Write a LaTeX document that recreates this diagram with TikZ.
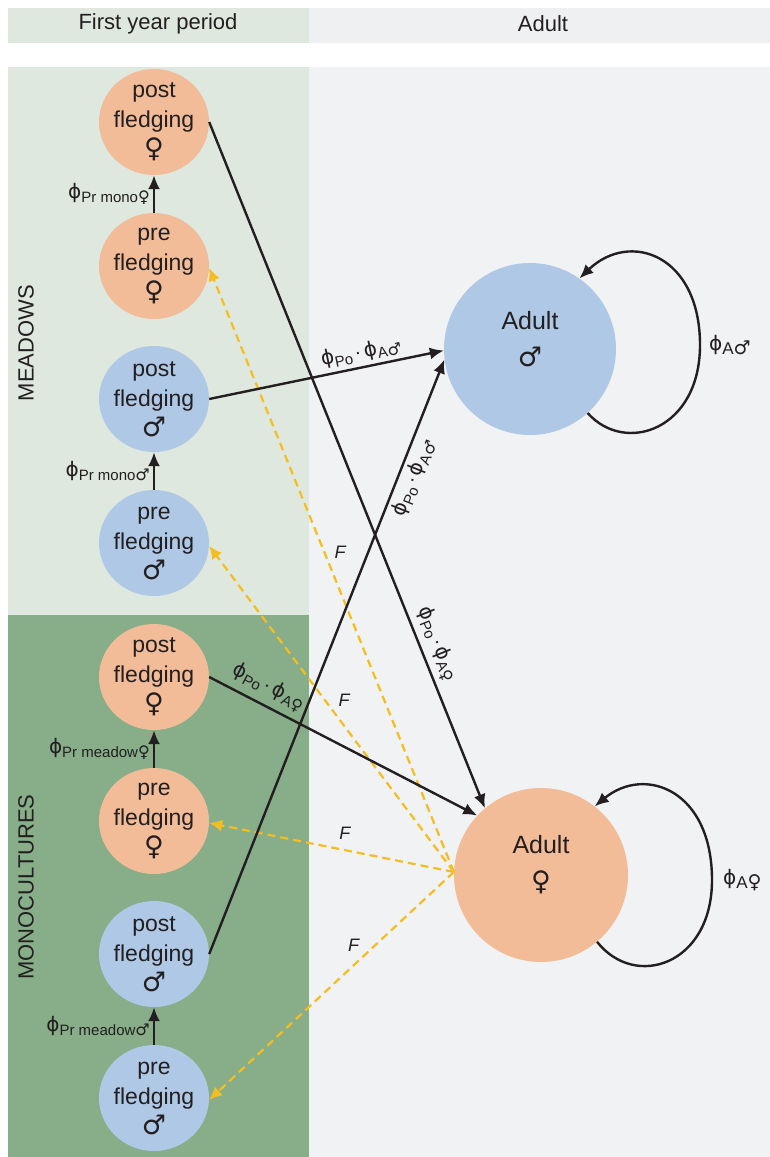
\documentclass[tikz,border=0pt]{standalone}
\usepackage{fontspec}
\setmainfont{Liberation Sans}
\newfontfamily\dv{DejaVu Sans}
\usetikzlibrary{arrows.meta,shapes.geometric}
\definecolor{salmon}{HTML}{F2BC98}
\definecolor{sky}{HTML}{AEC8E6}
\definecolor{lgreen}{HTML}{DEE8DF}
\definecolor{dgreen}{HTML}{87AE89}
\definecolor{pgrey}{HTML}{F1F2F4}
\definecolor{hgrey}{HTML}{EFF0F2}
\definecolor{fy}{HTML}{F5BD1F}
\definecolor{txt}{HTML}{231F20}
\newcommand{\fsz}[1]{\fontsize{#1}{#1}\selectfont}
\newcommand{\sym}[2]{{\dv\fsz{#1}#2}}
\newcommand{\ph}{{\dv\fsz{20}ϕ}}
\newcommand{\phisub}[2]{\ph\raisebox{-4pt}{\fsz{15}#1\sym{16}{#2}}}
\newcommand{\popa}[1]{\phisub{Po}{}\ {\fsz{20}·}\ \phisub{A}{#1}}
\begin{document}
\begin{tikzpicture}[x=1pt,y=-1pt,
  fc/.style={ellipse, minimum width=110pt, minimum height=106pt, inner sep=0pt},
  lab/.style={align=center, font=\fontsize{23}{30}\selectfont, text=txt, inner sep=0pt},
  alab/.style={align=center, font=\fontsize{25}{37}\selectfont, text=txt, inner sep=0pt, yshift=10pt},
  fem/.style={fc, fill=salmon},
  mal/.style={fc, fill=sky},
  adl/.style={circle, inner sep=0pt},
  arr/.style={draw=txt, line width=2.4pt, -{Latex[length=14pt,width=12pt]}},
  dsh/.style={draw=fy, line width=2.2pt, dash pattern=on 8pt off 5pt, -{Latex[length=13pt,width=12pt,fill=fy]}},
  plab/.style={text=txt, inner sep=3pt},
  flab/.style={text=txt, font=\fsz{18}\itshape, inner sep=0pt},
  hdr/.style={text=txt, font=\fsz{22}},
  side/.style={text=txt, font=\fsz{22}, rotate=90}
]
\useasboundingbox (0,0) rectangle (770,1157);
% backgrounds
\fill[lgreen] (8,8) rectangle (309,43);
\fill[hgrey] (309,8) rectangle (770,43);
\fill[lgreen] (8,67) rectangle (309,615);
\fill[dgreen] (8,615) rectangle (309,1157);
\fill[pgrey] (309,67) rectangle (770,1157);
\node[hdr] (h1) at (158,24) {First year period};
\node[hdr] (h2) at (543,24) {Adult};
\node[side] (s1) at (26,343) {MEADOWS};
\node[side] (s2) at (26,887) {MONOCULTURES};
% first-year nodes
\node[fem, label={[lab]center:{post\\fledging\\\sym{27}{♀}}}] (poF1) at (154,122) {};
\node[fem, label={[lab]center:{pre\\fledging\\\sym{27}{♀}}}] (prF1) at (154,266) {};
\node[mal, label={[lab]center:{post\\fledging\\\sym{27}{♂}}}] (poM1) at (154,399) {};
\node[mal, label={[lab]center:{pre\\fledging\\\sym{27}{♂}}}] (prM1) at (154,543) {};
\node[fem, label={[lab]center:{post\\fledging\\\sym{27}{♀}}}] (poF2) at (154,677) {};
\node[fem, label={[lab]center:{pre\\fledging\\\sym{27}{♀}}}] (prF2) at (154,821) {};
\node[mal, label={[lab]center:{post\\fledging\\\sym{27}{♂}}}] (poM2) at (154,954) {};
\node[mal, label={[lab]center:{pre\\fledging\\\sym{27}{♂}}}] (prM2) at (154,1098) {};
% adults
\node[adl, fill=sky, minimum size=172pt, label={[alab]center:{Adult\\\sym{27}{♂}}}] (aM) at (530,349) {};
\node[adl, fill=salmon, minimum size=174pt, label={[alab]center:{Adult\\\sym{27}{♀}}}] (aF) at (541,875) {};
% vertical transitions
\draw[arr] (prF1) -- node[left, plab] {\phisub{Pr mono}{♀}} (poF1);
\draw[arr] (prM1) -- node[left, plab] {\phisub{Pr mono}{♂}} (poM1);
\draw[arr] (prF2) -- node[left, plab] {\phisub{Pr meadow}{♀}} (poF2);
\draw[arr] (prM2) -- node[left, plab] {\phisub{Pr meadow}{♂}} (poM2);
% fecundity
\draw[dsh] (aF.178) -- node[flab, pos=0.53, xshift=16pt] {F} (prF1.-2);
\draw[dsh] (aF.178) -- node[flab, pos=0.526, xshift=19pt] {F} (prM1.-3);
\draw[dsh] (aF.178) -- node[flab, pos=0.445, yshift=17pt] {F} (prF2.-2);
\draw[dsh] (aF.178) -- node[flab, pos=0.41, yshift=20pt] {F} (prM2.-2);
% to adults
\draw[arr] (poF1.east) -- node[sloped, above, pos=0.77, text=txt, inner sep=5pt] {\popa{♀}} (aF.130);
\draw[arr] (poM1.east) -- node[sloped, above, pos=0.66, text=txt, inner sep=4pt] {\popa{♂}} (aM.181);
\draw[arr] (poM2.east) -- node[sloped, below, pos=0.81, text=txt, inner sep=4pt] {\popa{♂}} (aM.187);
\draw[arr] (poF2.east) -- node[sloped, above, pos=0.19, text=txt, inner sep=6pt] {\popa{♀}} (aF.137);
% self loops
\draw[arr] (aM.-48) .. controls (625,455) and (700,430) .. (700,345)
  node[right, text=txt, inner sep=0pt, xshift=8pt] (lM) {\ph\raisebox{-4pt}{\fsz{17}A\sym{19}{♂}}}
  .. controls (700,255) and (630,230) .. (aM.55);
\draw[arr] (aF.-50) .. controls (635,990) and (712,965) .. (712,880)
  node[right, text=txt, inner sep=0pt, xshift=10pt] (lF) {\ph\raisebox{-4pt}{\fsz{17}A\sym{19}{♀}}}
  .. controls (712,790) and (645,765) .. (aF.52);
\end{tikzpicture}
\end{document}
